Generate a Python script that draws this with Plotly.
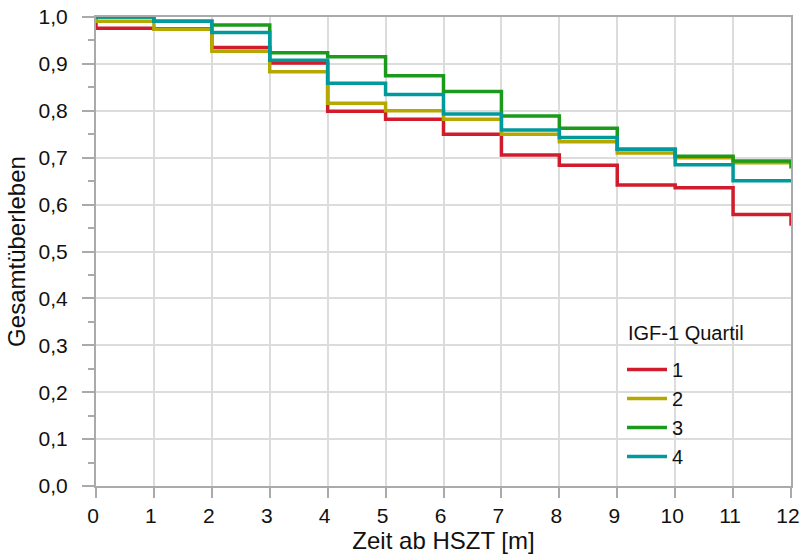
import plotly.graph_objects as go

months = [0, 1, 2, 3, 4, 5, 6, 7, 8, 9, 10, 11, 12]
start_value = 1.0
q1 = [0.976, 0.975, 0.935, 0.902, 0.799, 0.782, 0.750, 0.706, 0.684, 0.642, 0.636, 0.579, 0.555]
q2 = [0.991, 0.974, 0.927, 0.883, 0.816, 0.800, 0.782, 0.750, 0.734, 0.710, 0.700, 0.689, 0.689]
q3 = [1.000, 0.991, 0.983, 0.924, 0.915, 0.875, 0.841, 0.789, 0.763, 0.718, 0.703, 0.693, 0.677]
q4 = [1.000, 0.991, 0.967, 0.908, 0.859, 0.835, 0.793, 0.759, 0.743, 0.718, 0.685, 0.651, 0.651]
names = ["1", "2", "3", "4"]
colors = ["#d01c2c", "#b5a800", "#1c9a1c", "#00999c"]
yticks = [0.0, 0.1, 0.2, 0.3, 0.4, 0.5, 0.6, 0.7, 0.8, 0.9, 1.0]
legend_title = "IGF-1 Quartil"

W, H = 801, 555
ML, MR, MT, MB = 96, 10, 17, 69
PW, PH = W - ML - MR, H - MT - MB


def px_x(p):
    return (p - ML) / PW


def px_y(p):
    return (H - MB - p) / PH


fig = go.Figure()
for name, vals, col in zip(names, [q1, q2, q3, q4], colors):
    fig.add_trace(go.Scatter(
        x=[months[0]] + months, y=[start_value] + vals, name=name, mode="lines",
        line=dict(color=col, width=3.5, shape="hv"),
    ))

font = "Liberation Sans, Arial, sans-serif"
fig.add_shape(type="rect", xref="paper", yref="paper",
              x0=px_x(625), x1=px_x(748), y0=px_y(443), y1=px_y(317),
              fillcolor="white", line=dict(width=0), layer="below")
fig.add_annotation(text=legend_title, xref="paper", yref="paper",
                   x=px_x(626), y=px_y(333), xanchor="left", yanchor="middle",
                   showarrow=False, font=dict(size=20, family=font, color="#111"))

fig.update_layout(
    width=W, height=H,
    margin=dict(l=ML, r=MR, t=MT, b=MB),
    paper_bgcolor="white", plot_bgcolor="white",
    separators=", ",
    font=dict(family=font, size=20, color="#111"),
    showlegend=True,
    legend=dict(
        x=px_x(622), y=px_y(350), xanchor="left", yanchor="top",
        bgcolor="rgba(0,0,0,0)", font=dict(size=20),
        tracegroupgap=0, itemwidth=40,
    ),
    xaxis=dict(
        range=[0, 12], tickvals=months, ticktext=[str(m) for m in months],
        tickfont=dict(size=21), ticklabeloverflow="allow", ticklabelshift=-3,
        showgrid=True, gridcolor="#dcdcdc", gridwidth=2,
        showline=True, linecolor="#aaaaaa", linewidth=2, mirror=True,
        ticks="outside", ticklen=10, tickcolor="#aaaaaa", tickwidth=2,
        zeroline=False, automargin=False,
        title=dict(text="Zeit ab HSZT [m]", standoff=2),
    ),
    yaxis=dict(
        range=[0, 1.0], tickvals=yticks, tickformat=".1f",
        tickfont=dict(size=21), ticklabeloverflow="allow",
        showgrid=True, gridcolor="#dcdcdc", gridwidth=2,
        showline=True, linecolor="#aaaaaa", linewidth=2, mirror=True,
        ticks="outside", ticklen=12, tickcolor="#aaaaaa", tickwidth=2,
        ticklabelstandoff=10,
        minor=dict(dtick=0.05, ticks="outside", ticklen=6, tickcolor="#aaaaaa", tickwidth=2, showgrid=False),
        zeroline=False, automargin=False,
        title=dict(text="Gesamtüberleben", standoff=6),
    ),
)
fig.write_html("out.html")
